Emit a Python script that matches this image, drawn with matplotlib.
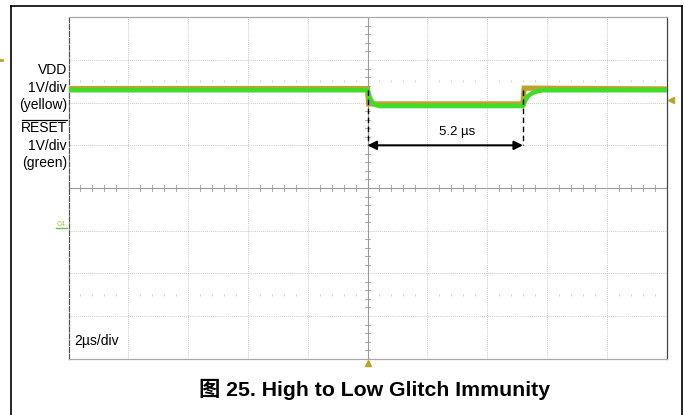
import matplotlib.pyplot as plt
import matplotlib.lines as mlines

plt.rcParams['font.family'] = ['Liberation Sans', 'Noto Sans CJK SC', 'DejaVu Sans']

# scope settings / readings (time in us, level in divisions)
time_per_div = 2.0
t_fall = 0.0
t_rise = 5.2
glitch_label = '5.2 µs'

yellow_t = [-10.0, 0.0, 0.04, 5.2, 5.24, 10.0]
yellow_v = [2.33, 2.33, 1.97, 1.97, 2.34, 2.32]

green_t = [-10.0, 0.0, 0.08, 0.16, 0.25, 0.40, 5.2, 5.28, 5.38, 5.50, 5.65, 5.85, 10.0]
green_v = [2.29, 2.29, 2.12, 2.01, 1.95, 1.92, 1.92, 2.06, 2.16, 2.22, 2.26, 2.29, 2.29]

left_labels = ['VDD', '1V/div', '(yellow)', 'RESET', '1V/div', '(green)']
left_label_y = [70, 88, 105, 128, 146, 163]
timebase_label = '2µs/div'
caption = '图 25. High to Low Glitch Immunity'

W, H = 684, 415
fig = plt.figure(figsize=(W / 100, H / 100), dpi=100)


def fx(x):
    return x / W


def fy(y):
    return 1 - y / H


# outer frame of the document figure
fig.add_artist(mlines.Line2D([fx(10.5), fx(682)], [fy(6), fy(6)], color='black', lw=1.2))
fig.add_artist(mlines.Line2D([fx(10.5), fx(10.5)], [fy(6), fy(416)], color='black', lw=1.2))
fig.add_artist(mlines.Line2D([fx(682), fx(682)], [fy(6), fy(416)], color='black', lw=1.2))

# scope screen
ax = fig.add_axes([fx(68.5), fy(358.7), fx(666.5) - fx(68.5), fy(17.3) - fy(358.7)])
ax.set_xlim(-10, 10)
ax.set_ylim(-4, 4)
ax.set_xticks([])
ax.set_yticks([])
ax.spines['top'].set_color('#a8a8a8')
ax.spines['bottom'].set_color('#a8a8a8')
ax.spines['left'].set_color('#555555')
ax.spines['left'].set_linestyle((0, (4, 1.5)))
ax.spines['right'].set_color('#444444')
for s in ax.spines.values():
    s.set_linewidth(0.9)

grid_kw = dict(color='#b4b4b4', lw=0.6, ls=(0, (1, 1.5)), zorder=1)
for gx in [-8, -6, -4, -2, 2, 4, 6, 8]:
    ax.axvline(gx, **grid_kw)
for gy in [-3, -2, -1, 1, 2, 3]:
    ax.axhline(gy, **grid_kw)

# centre cross with minor ticks (5 per division)
ax.axhline(0, color='#9a9a9a', lw=0.8, zorder=1)
ax.axvline(0, color='#9a9a9a', lw=0.8, zorder=1)
for i in range(-25, 26):
    if i % 5 == 0:
        continue
    tx = i * 0.2 * time_per_div
    ax.plot([tx, tx], [-0.07, 0.07], color='#9a9a9a', lw=0.6, zorder=1)
for i in range(-20, 21):
    if i % 5 == 0:
        continue
    ty = i * 0.2
    ax.plot([-0.1, 0.1], [ty, ty], color='#9a9a9a', lw=0.6, zorder=1)

# faint dot rows
for ry in [2.5, -2.5]:
    xs = [i * 0.4 for i in range(-25, 26) if i % 5 != 0]
    ax.plot(xs, [ry] * len(xs), ls='none', marker='|', ms=2, mew=0.6, color='#c4c4c4', zorder=1)

# traces
ax.plot(yellow_t, yellow_v, color='#b8a62c', lw=3.8, solid_joinstyle='miter', zorder=3)
ax.plot(green_t, green_v, color='#3fdc28', lw=3.2, zorder=4)

# glitch width measurement
ax.plot([t_fall, t_fall], [2.3, 1.0], color='black', lw=1.0, ls=(0, (4, 2.5)), zorder=5)
ax.plot([t_rise, t_rise], [2.3, 1.0], color='black', lw=1.0, ls=(0, (4, 2.5)), zorder=5)
ax.annotate('', xy=(t_fall, 1.0), xytext=(t_rise, 1.0),
            arrowprops=dict(arrowstyle='<|-|>', color='black', lw=1.5,
                            mutation_scale=13, shrinkA=0, shrinkB=0), zorder=6)
ax.text(3.0, 1.32, glitch_label, ha='center', va='center', fontsize=9.5)

ax.text(-9.8, -3.58, timebase_label, ha='left', va='center', fontsize=10)

# scope markers
ax.plot([10.15], [2.06], marker='<', ms=5, color='#b8a62c', clip_on=False, zorder=6)
ax.plot([0], [-4.09], marker='^', ms=5, color='#b8a62c', clip_on=False, zorder=6)
fig.text(fx(57), fy(224), 'C4', fontsize=5, color='#9ccc40', ha='left', va='center')
fig.add_artist(mlines.Line2D([fx(56), fx(67)], [fy(228), fy(228)], color='#6cc040', lw=1.0))
fig.add_artist(mlines.Line2D([fx(0), fx(2)], [fy(60), fy(60)], color='#b8a62c', lw=2.0))

# channel labels
for lab, ly in zip(left_labels, left_label_y):
    fig.text(fx(67), fy(ly), lab, ha='right', va='center', fontsize=10)
fig.add_artist(mlines.Line2D([fx(22), fx(67)], [fy(120.5), fy(120.5)], color='black', lw=0.9))

fig.text(fx(375), fy(389), caption, ha='center', va='center', fontsize=15.3, fontweight='bold')

fig.savefig('out.png', dpi=100)
